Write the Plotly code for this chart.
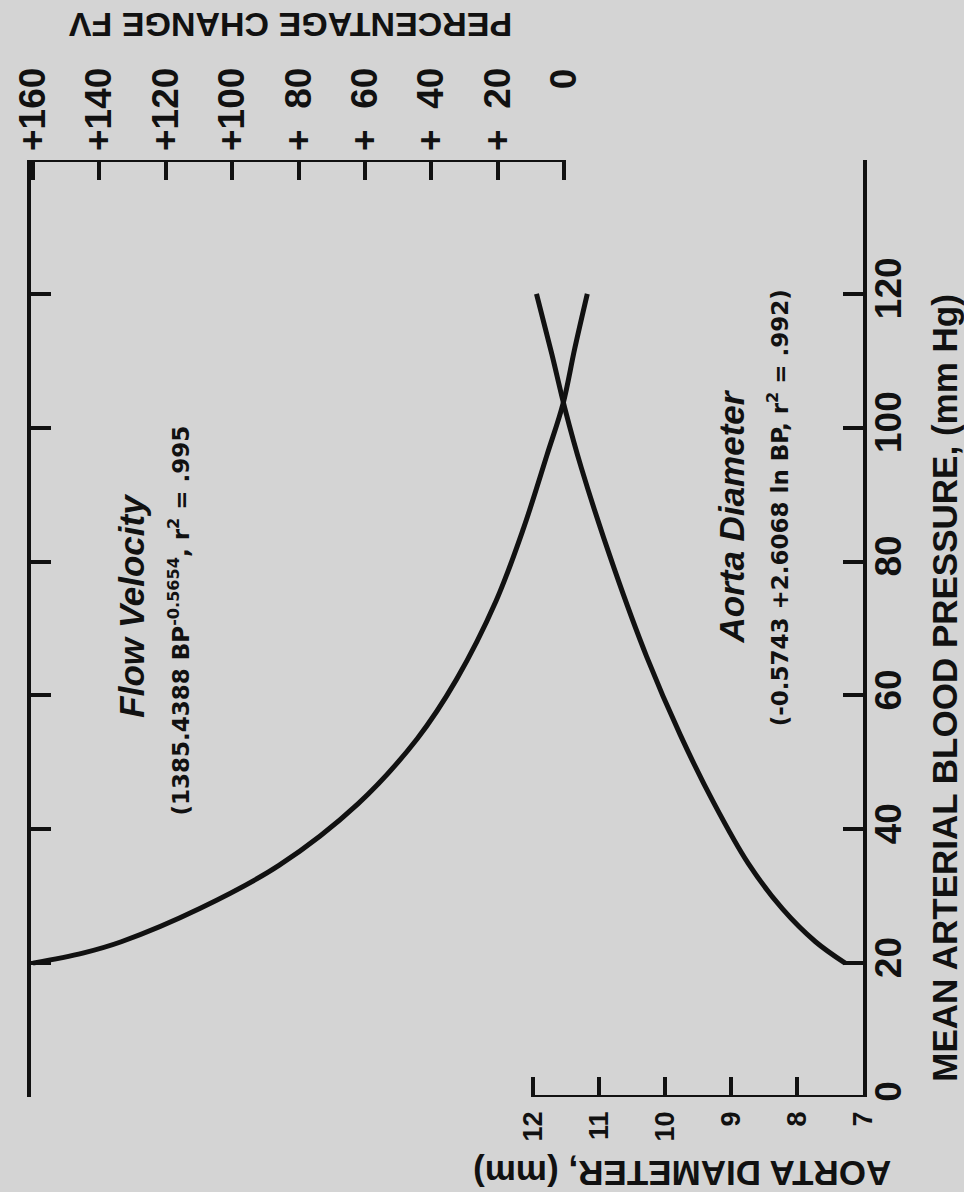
import plotly.graph_objects as go

# ---- data ----
bp_flow = [20, 21.5, 23.2, 28.2, 34.6, 43.8, 53.5, 62.4, 74.1, 85.0, 96.0, 103.6, 111.8, 120]
flow_velocity_pct = [160.0, 145.0, 133.4, 109.6, 85.9, 62.1, 44.3, 32.4, 20.5, 12.2, 5.1, 0.3, -3.2, -7.0]
bp_aorta = [20, 23.2, 28.1, 34.9, 43.9, 54.1, 65.8, 78.9, 94.0, 102.9, 111.1, 120]
aorta_diameter_mm = [7.27, 7.72, 8.22, 8.74, 9.26, 9.77, 10.28, 10.77, 11.27, 11.52, 11.72, 11.95]

bp_ticks = [0, 20, 40, 60, 80, 100, 120, 140]
bp_ticklabels = ["0", "20", "40", "60", "80", "100", "120", " "]
diam_ticks = [12, 11, 10, 9, 8, 7]
diam_ticklabels = ["12", "11", "10", "9", "8", "7"]
pct_ticks = [160, 140, 120, 100, 80, 60, 40, 20, 0]
pct_ticklabels = ["+160", "+140", "+120", "+100", "+\u200780", "+\u200760",
                  "+\u200740", "+\u200720", "\u2007\u2007\u20070"]

INK = "#111111"
BG = "#d4d4d4"
FONT = "Liberation Sans"
FFONT = "DejaVu Sans"

fig = go.Figure()
fig.add_trace(go.Scatter(x=aorta_diameter_mm, y=bp_aorta, mode="lines",
                         line=dict(color=INK, width=5, shape="spline", smoothing=1.0),
                         xaxis="x", yaxis="y", showlegend=False))
fig.add_trace(go.Scatter(x=flow_velocity_pct, y=bp_flow, mode="lines",
                         line=dict(color=INK, width=5, shape="spline", smoothing=1.0),
                         xaxis="x2", yaxis="y", showlegend=False))

tick_common = dict(ticks="inside", ticklen=20, tickwidth=4, tickcolor=INK,
                   showgrid=False, zeroline=False, tickangle=-90)

fig.update_layout(
    width=964, height=1192,
    margin=dict(l=28, r=101, t=160, b=95),
    paper_bgcolor=BG, plot_bgcolor=BG,
    xaxis=dict(range=[19.613, 7], tickvals=diam_ticks, ticktext=diam_ticklabels,
               showline=False, ticklabelstandoff=8,
               tickfont=dict(family=FONT, size=27, color=INK, weight="bold"),
               **tick_common),
    xaxis2=dict(range=[160.6, -90.06], overlaying="x", side="top",
                tickvals=pct_ticks, ticktext=pct_ticklabels, showline=False,
                ticklabelstandoff=8,
                tickfont=dict(family=FONT, size=37, color=INK, weight="bold"),
                **tick_common),
    yaxis=dict(range=[0, 140], side="right", tickvals=bp_ticks, ticktext=bp_ticklabels,
               showline=True, linewidth=4, linecolor=INK, mirror="ticks",
               ticklabelstandoff=-10,
               tickfont=dict(family=FONT, size=37, color=INK, weight="bold"),
               **tick_common),
)

# partial frame lines
fig.add_shape(type="line", xref="x2", yref="y", x0=0, x1=161, y0=140, y1=140,
              line=dict(color=INK, width=4))
fig.add_shape(type="line", xref="x", yref="y", x0=12, x1=7, y0=0, y1=0,
              line=dict(color=INK, width=4))

def ann(text, x, y, angle, size, family=FONT, bold=True, italic=False):
    fig.add_annotation(text=text, x=x, y=y, xref="paper", yref="paper",
                       textangle=angle, showarrow=False, xanchor="center", yanchor="middle",
                       font=dict(family=family, size=size, color=INK,
                                 weight="bold" if bold else "normal",
                                 style="italic" if italic else "normal"))

ann("PERCENTAGE CHANGE FV", 0.3114, 1.1441, 180, 34)
ann("AORTA DIAMETER, (mm)", 0.7832, -0.0811, 180, 35)
ann("MEAN ARTERIAL BLOOD PRESSURE, (mm Hg)", 1.0982, 0.4365, -90, 35)
ann("Flow Velocity", 0.1198, 0.524, -90, 35, italic=True)
ann("(1385.4388 BP<sup>-0.5654</sup>, r<sup>2</sup> = .995", 0.1784, 0.509, -90, 23, family=FFONT)
ann("Aorta Diameter", 0.8419, 0.620, -90, 35, italic=True)
ann("(-0.5743 +2.6068 ln BP, r<sup>2</sup> = .992)", 0.8982, 0.6286, -90, 23, family=FFONT)

fig.write_html("out.html", config={"displayModeBar": False},
               post_script="document.body.style.margin='0px';")
